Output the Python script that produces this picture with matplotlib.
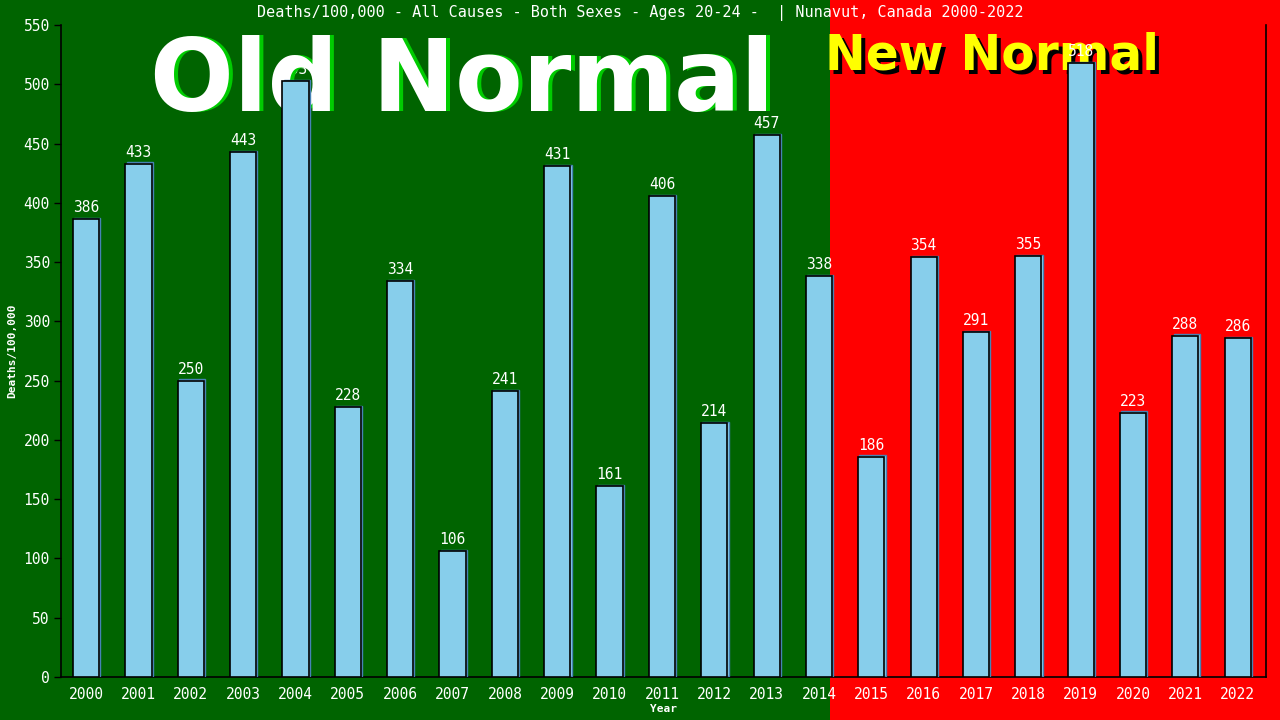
import matplotlib
matplotlib.use("Agg")
import matplotlib.pyplot as plt
from matplotlib.patches import Rectangle
from matplotlib.transforms import ScaledTranslation, offset_copy

years = ["2000", "2001", "2002", "2003", "2004", "2005", "2006", "2007",
         "2008", "2009", "2010", "2011", "2012", "2013", "2014", "2015",
         "2016", "2017", "2018", "2019", "2020", "2021", "2022"]
deaths = [386, 433, 250, 443, 503, 228, 334, 106, 241, 431, 161, 406,
          214, 457, 338, 186, 354, 291, 355, 518, 223, 288, 286]
yticks = [0, 50, 100, 150, 200, 250, 300, 350, 400, 450, 500, 550]

title = "Deaths/100,000 - All Causes - Both Sexes - Ages 20-24 -  | Nunavut, Canada 2000-2022"
mono = "DejaVu Sans Mono"

GREEN = "#006400"
RED = "#ff0000"
BAR = "#87ceeb"

fig = plt.figure(figsize=(12.8, 7.2), dpi=100)
fig.patch.set_facecolor(RED)
ax = fig.add_axes([61 / 1280, 43 / 720, (1266 - 61) / 1280, (677 - 25) / 720])
ax.set_facecolor("none")

x = list(range(len(years)))
ax.set_xlim(-0.48, 22.54)
ax.set_ylim(0, 550)

# green "old normal" part of the background, up to just after 2014
split = 14.22
fig.canvas.draw()
xs = fig.transFigure.inverted().transform(ax.transData.transform((split, 0)))[0]
fig.patches.append(Rectangle((0, 0), xs, 1, transform=fig.transFigure,
                             facecolor=GREEN, edgecolor="none", zorder=-10))

# bars with a thin steelblue shadow
shadow = ax.bar(x, deaths, width=0.5, color=BAR, edgecolor="#4682b4",
                linewidth=1, zorder=2.9)
shift = ScaledTranslation(1.2 / 100, 1.2 / 100, fig.dpi_scale_trans)
for p in shadow:
    p.set_transform(ax.transData + shift)
ax.bar(x, deaths, width=0.5, color=BAR, edgecolor="black", linewidth=1.2,
       zorder=3)

lab_tr = offset_copy(ax.transData, fig=fig, x=0, y=4, units="dots")
for xi, v in zip(x, deaths):
    ax.text(xi, v, str(v), transform=lab_tr, ha="center", va="bottom",
            color="white", fontsize=10.5, family=mono, zorder=2)

fig_tr = fig.transFigure

# big captions
ax.text(996 / 1280, 1 - 73 / 720, "New Normal", transform=fig_tr,
        ha="center", va="baseline", fontsize=35, fontweight="bold",
        family="DejaVu Sans", color="black", zorder=1)
ax.text(992 / 1280, 1 - 69 / 720, "New Normal", transform=fig_tr,
        ha="center", va="baseline", fontsize=35, fontweight="bold",
        family="DejaVu Sans", color="yellow", zorder=1.1)

ax.text(466 / 1280, 1 - 111 / 720, "Old Normal", transform=fig_tr,
        ha="center", va="baseline", fontsize=71, fontweight="bold",
        family="DejaVu Sans", color="#00cc00", zorder=2.4)
ax.text(462 / 1280, 1 - 111 / 720, "Old Normal", transform=fig_tr,
        ha="center", va="baseline", fontsize=71, fontweight="bold",
        family="DejaVu Sans", color="white", zorder=2.5)

for t in ax.texts:
    t.set_clip_on(False)

fig.text(640 / 1280, 1 - 13 / 720, title, ha="center", va="center",
         color="white", fontsize=10.9, family=mono)

ax.set_xticks(x)
ax.set_xticklabels(years)
ax.set_yticks(yticks)
ax.tick_params(axis="x", length=0, pad=7, colors="white", labelsize=10.5)
ax.tick_params(axis="y", length=5, width=1, color="black", pad=3,
               labelcolor="white", labelsize=10.5)
for lab in ax.get_xticklabels() + ax.get_yticklabels():
    lab.set_family(mono)

for s in ["left", "bottom", "right"]:
    ax.spines[s].set_color("black")
    ax.spines[s].set_linewidth(1.2)
ax.spines["top"].set_visible(False)

fig.text(12 / 1280, 1 - 351 / 720, "Deaths/100,000", rotation=90,
         ha="center", va="center", color="white", fontsize=8,
         fontweight="bold", family=mono)
fig.text(663 / 1280, 1 - 709 / 720, "Year", ha="center", va="center",
         color="white", fontsize=8, fontweight="bold", family=mono)

fig.savefig("out.png", dpi=100, facecolor=fig.get_facecolor())
